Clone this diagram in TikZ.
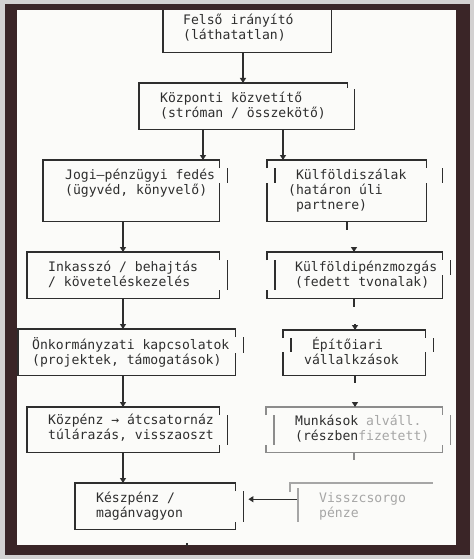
\documentclass[tikz,border=0pt]{standalone}
\usepackage{fontspec}
\newfontfamily\flowfont{DejaVu Sans Mono}
\usetikzlibrary{calc,arrows.meta}

\definecolor{ink}{HTML}{2E2E2E}
\definecolor{framebrown}{HTML}{3A2527}
\definecolor{paper}{HTML}{FBFBF9}
\definecolor{outside}{HTML}{D3D1D1}
\definecolor{faded}{HTML}{A6A6A6}

\tikzset{
  edge/.style={draw=ink, line width=1.3pt},
  arr/.style={edge, -{Triangle[width=6pt,length=5pt]}},
  box/.style 2 args={inner sep=0pt, anchor=north west, minimum width=#1pt, minimum height=#2pt},
  txt/.style={inner sep=0pt, anchor=base west, align=left, text=ink,
    font=\flowfont\fontsize{13.1}{15}\selectfont},
}

% box of the left column: right side broken, bar outside
\newcommand{\sideR}[2]{%
  \draw[edge] ($(#1.north east)+(0,8)$) -- (#1.north east) -- (#1.north west)
    -- (#1.south west) -- (#1.south east) -- ($(#1.north east)+(0,#2)$);
  \draw[edge] ($(#1.north east)+(8,8)$) -- ($(#1.north east)+(8,#2)$);
}
% box of the right column: both sides broken, bars left inside / right outside
\newcommand{\sideL}[5][]{%
  \draw[edge,#1] ($(#2.north west)+(0,8)$) -- (#2.north west) -- (#2.north east) -- ($(#2.north east)+(0,8)$);
  \draw[edge,#1] ($(#2.north east)+(0,#5)$) -- (#2.south east) -- (#2.south west) -- ($(#2.north west)+(0,#3)$);
  \draw[edge,#1] ($(#2.north west)+(8,8)$) -- ($(#2.north west)+(8,#3)$);
  \draw[edge,#1] ($(#2.north east)+(#4,8)$) -- ($(#2.north east)+(#4,#5)$);
}

\begin{document}
\begin{tikzpicture}[x=1pt,y=-1pt]

% photo frame
\fill[outside] (0,0) rectangle (474,559);
\fill[framebrown] (5,4) rectangle (470,555);
\fill[paper] (17,10) rectangle (456,545);
\useasboundingbox (0,0) rectangle (474,559);

% boxes
\node[box={168}{42}] (felso) at (163,10) {};
\node[box={215}{46}] (kozp) at (139,83) {};
\node[box={176}{61}] (jogi) at (43,160) {};
\node[box={159}{61}] (kulf) at (267,160) {};
\node[box={192}{46}] (inkasso) at (27,252) {};
\node[box={175}{46}] (penzmozg) at (267,252) {};
\node[box={217}{46}] (onkorm) at (18,329) {};
\node[box={142}{45}] (epito) at (283,330) {};
\node[box={192}{45}] (kozpenz) at (27,407) {};
\node[box={176}{45}] (munkas) at (266,407) {};
\node[box={160}{46}] (keszp) at (75,483) {};
\node[box={143}{46}] (vissza) at (290,483) {};

\draw[edge] (felso.north west) -- (felso.south west) -- (felso.south east) -- (felso.north east);
\draw[edge] ($(kozp.north east)+(-7,5)$) -- ($(kozp.north east)+(-7,0)$) -- (kozp.north west)
  -- (kozp.south west) -- (kozp.south east) -- ($(kozp.north east)+(0,6)$);

\sideR{jogi}{23}
\sideR{inkasso}{38}
\sideR{onkorm}{24}
\sideR{kozpenz}{38}
\sideR{keszp}{39}

\sideL{kulf}{23}{16}{23}
\sideL{penzmozg}{38}{8}{23}
\sideL{epito}{22}{8}{22}
\sideL[draw=ink!55]{munkas}{38}{8}{38}

\draw[edge, draw=faded] ($(vissza.north west)+(0,9)$) -- (vissza.north west) -- (vissza.north east);
\draw[edge, draw=faded] ($(vissza.north west)+(8,5)$) -- ($(vissza.north west)+(8,39)$);

% texts (placed at the baseline of the last line)
\node[txt] (felsoT) at (183,39.5) {Felső irányító\\(láthatatlan)};
\node[txt] (kozpT) at (160,117.5) {Központi közvetítő\\(stróman / összekötő)};
\node[txt] (jogiT) at (65,194.5) {Jogi–pénzügyi fedés\\(ügyvéd, könyvelő)};
\node[txt] (kulfT) at (288,209.5) {\phantom{(}Külföldiszálak\\(határon úli\\\phantom{(}partnere)};
\node[txt] (inkassoT) at (48,286.5) {Inkasszó / behajtás\\/ követeléskezelés};
\node[txt] (penzT) at (295,286.5) {Külföldipénzmozgás\\(fedett tvonalak)};
\node[txt] (onkormT) at (32,364.5) {Önkormányzati kapcsolatok\\(projektek, támogatások)};
\node[txt] (epitoT) at (304,364.5) {\phantom{v}Építőiari\\vállalkzások};
\node[txt] (kozpenzT) at (48,439.5) {Közpénz → átcsatornáz\\túlárazás, visszaoszt};
\node[txt] (munkasT) at (295,440.5) {Munkások \textcolor{faded}{alváll.}\\(részben\textcolor{faded}{fizetett)}};
\node[txt] (keszpT) at (96,517.5) {Készpénz /\\magánvagyon};
\node[txt, text=faded] (visszaT) at (319,517.5) {Visszcsorgo\\pénze};

% connectors, left column
\draw[arr] (243,0 |- felso.south) -- (243,0 |- kozp.north);
\draw[arr] (203,0 |- kozp.south) -- (203,0 |- jogi.north);
\draw[arr] (283,0 |- kozp.south) -- (283,0 |- kulf.north);
\draw[arr] (123,0 |- jogi.south) -- (123,0 |- inkasso.north);
\draw[arr] (123,0 |- inkasso.south) -- (123,0 |- onkorm.north);
\draw[arr] (123,0 |- onkorm.south) -- (123,0 |- kozpenz.north);
\draw[arr] (123,0 |- kozpenz.south) -- (123,0 |- keszp.north);

% connectors, right column (broken)
\draw[edge] (347,0 |- kulf.south) -- ++(0,9);
\draw[arr] ($(354,0 |- penzmozg.north)+(0,-5)$) -- (354,0 |- penzmozg.north);
\draw[edge] (354,0 |- penzmozg.south) -- ++(0,9);
\draw[arr] ($(355,0 |- epito.north)+(0,-6)$) -- (355,0 |- epito.north);
\draw[edge] (355,0 |- epito.south) -- ++(0,8);
\draw[arr] ($(355,0 |- munkas.north)+(0,-5)$) -- (355,0 |- munkas.north);
\draw[edge, draw=ink!55] (354,0 |- munkas.south) -- ++(0,8);
\draw[arr] ([shift={(7,-7)}]vissza.west) -- ([shift={(13,-7)}]keszp.east);
\draw[edge] (187,543) -- (187,546);

\end{tikzpicture}
\end{document}
